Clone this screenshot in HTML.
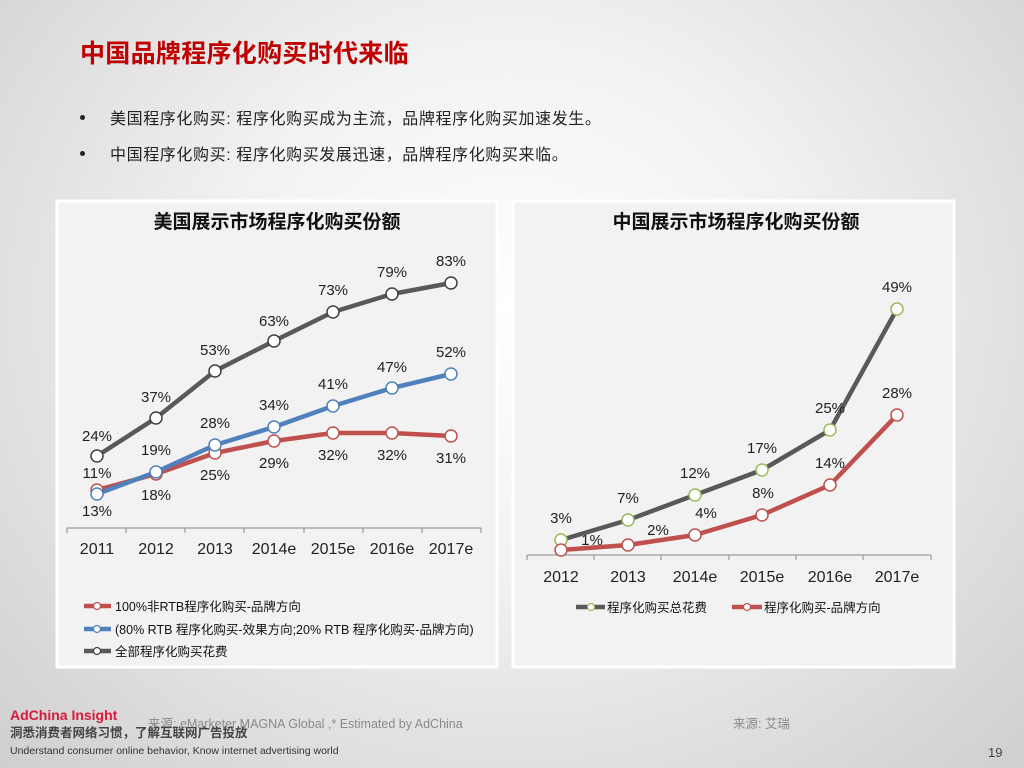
<!DOCTYPE html>
<html><head><meta charset="utf-8"><style>
body{margin:0;width:1024px;height:768px;overflow:hidden;background:radial-gradient(ellipse at 50% 40%,#ffffff 0%,#f2f2f2 40%,#cfcfcf 100%);font-family:"Liberation Sans","Noto Sans CJK SC",sans-serif;position:relative}
.t{position:absolute;white-space:nowrap}
.dot{position:absolute;width:5px;height:5px;border-radius:50%;background:#222}
</style></head><body>
<div class="t" style="left:80px;top:34px;font-size:25px;font-weight:bold;color:#c00000;letter-spacing:0.3px">中国品牌程序化购买时代来临</div>
<div class="dot" style="left:80px;top:115px"></div>
<div class="t" style="left:110px;top:105px;font-size:16px;color:#222;letter-spacing:0.6px">美国程序化购买: 程序化购买成为主流，品牌程序化购买加速发生。</div>
<div class="dot" style="left:80px;top:151px"></div>
<div class="t" style="left:110px;top:141px;font-size:16px;color:#222;letter-spacing:0.6px">中国程序化购买: 程序化购买发展迅速，品牌程序化购买来临。</div>
<svg width="1024" height="768" style="position:absolute;left:0;top:0" font-family="Liberation Sans, Noto Sans CJK SC, sans-serif">
<rect x="57" y="201" width="440" height="466" fill="#f2f2f2" stroke="#fff" stroke-width="3"/>
<rect x="513" y="201" width="441" height="466" fill="#f2f2f2" stroke="#fff" stroke-width="3"/>
<g font-size="19" font-weight="bold" fill="#111" text-anchor="middle">
<text x="277" y="228">美国展示市场程序化购买份额</text>
<text x="736" y="228">中国展示市场程序化购买份额</text></g>
<g stroke="#888" stroke-width="1"><line x1="67" y1="528" x2="481" y2="528"/>
<line x1="67" y1="528" x2="67" y2="533"/><line x1="126" y1="528" x2="126" y2="533"/><line x1="185" y1="528" x2="185" y2="533"/><line x1="244" y1="528" x2="244" y2="533"/><line x1="304" y1="528" x2="304" y2="533"/><line x1="363" y1="528" x2="363" y2="533"/><line x1="422" y1="528" x2="422" y2="533"/><line x1="481" y1="528" x2="481" y2="533"/></g>
<g font-size="16" fill="#222" text-anchor="middle"><text x="97" y="554">2011</text><text x="156" y="554">2012</text><text x="215" y="554">2013</text><text x="274" y="554">2014e</text><text x="333" y="554">2015e</text><text x="392" y="554">2016e</text><text x="451" y="554">2017e</text></g>
<g fill="none" stroke-width="4.5" stroke-linejoin="round">
<polyline stroke="#c0504d" points="97,490 156,474 215,453 274,441 333,433 392,433 451,436"/>
<polyline stroke="#4f81bd" points="97,494 156,472 215,445 274,427 333,406 392,388 451,374"/>
<polyline stroke="#595959" points="97,456 156,418 215,371 274,341 333,312 392,294 451,283"/></g>
<g fill="#fff" stroke-width="1.5">
<g stroke="#c0504d"><circle cx="97" cy="490" r="6"/><circle cx="156" cy="474" r="6"/><circle cx="215" cy="453" r="6"/><circle cx="274" cy="441" r="6"/><circle cx="333" cy="433" r="6"/><circle cx="392" cy="433" r="6"/><circle cx="451" cy="436" r="6"/></g>
<g stroke="#4f81bd"><circle cx="97" cy="494" r="6"/><circle cx="156" cy="472" r="6"/><circle cx="215" cy="445" r="6"/><circle cx="274" cy="427" r="6"/><circle cx="333" cy="406" r="6"/><circle cx="392" cy="388" r="6"/><circle cx="451" cy="374" r="6"/></g>
<g stroke="#404040"><circle cx="97" cy="456" r="6"/><circle cx="156" cy="418" r="6"/><circle cx="215" cy="371" r="6"/><circle cx="274" cy="341" r="6"/><circle cx="333" cy="312" r="6"/><circle cx="392" cy="294" r="6"/><circle cx="451" cy="283" r="6"/></g></g>
<g font-size="15" fill="#222" text-anchor="middle">
<text x="97" y="441">24%</text><text x="156" y="402">37%</text><text x="215" y="355">53%</text><text x="274" y="326">63%</text><text x="333" y="295">73%</text><text x="392" y="277">79%</text><text x="451" y="266">83%</text>
<text x="97" y="516">13%</text><text x="156" y="455">19%</text><text x="215" y="428">28%</text><text x="274" y="410">34%</text><text x="333" y="389">41%</text><text x="392" y="372">47%</text><text x="451" y="357">52%</text>
<text x="97" y="478">11%</text><text x="156" y="500">18%</text><text x="215" y="480">25%</text><text x="274" y="468">29%</text><text x="333" y="460">32%</text><text x="392" y="460">32%</text><text x="451" y="463">31%</text></g>
<g stroke-width="4.5"><line x1="84" y1="606" x2="111" y2="606" stroke="#c0504d"/><line x1="84" y1="629" x2="111" y2="629" stroke="#4f81bd"/><line x1="84" y1="651" x2="111" y2="651" stroke="#595959"/></g>
<g fill="#fff" stroke-width="1.2"><circle cx="97" cy="606" r="3.5" stroke="#c0504d"/><circle cx="97" cy="629" r="3.5" stroke="#4f81bd"/><circle cx="97" cy="651" r="3.5" stroke="#404040"/></g>
<g font-size="12.5" fill="#111"><text x="115" y="611">100%非RTB程序化购买-品牌方向</text><text x="115" y="634">(80% RTB 程序化购买-效果方向;20% RTB 程序化购买-品牌方向)</text><text x="115" y="656">全部程序化购买花费</text></g>
<g stroke="#888" stroke-width="1"><line x1="527" y1="555" x2="931" y2="555"/>
<line x1="527" y1="555" x2="527" y2="560"/><line x1="594" y1="555" x2="594" y2="560"/><line x1="661" y1="555" x2="661" y2="560"/><line x1="729" y1="555" x2="729" y2="560"/><line x1="796" y1="555" x2="796" y2="560"/><line x1="863" y1="555" x2="863" y2="560"/><line x1="931" y1="555" x2="931" y2="560"/></g>
<g font-size="16" fill="#222" text-anchor="middle"><text x="561" y="582">2012</text><text x="628" y="582">2013</text><text x="695" y="582">2014e</text><text x="762" y="582">2015e</text><text x="830" y="582">2016e</text><text x="897" y="582">2017e</text></g>
<g fill="none" stroke-width="4.5" stroke-linejoin="round">
<polyline stroke="#595959" points="561,540 628,520 695,495 762,470 830,430 897,309"/>
<polyline stroke="#c0504d" points="561,550 628,545 695,535 762,515 830,485 897,415"/></g>
<g fill="#fff" stroke-width="1.5">
<g stroke="#9bbb59"><circle cx="561" cy="540" r="6"/><circle cx="628" cy="520" r="6"/><circle cx="695" cy="495" r="6"/><circle cx="762" cy="470" r="6"/><circle cx="830" cy="430" r="6"/><circle cx="897" cy="309" r="6"/></g>
<g stroke="#c0504d"><circle cx="561" cy="550" r="6"/><circle cx="628" cy="545" r="6"/><circle cx="695" cy="535" r="6"/><circle cx="762" cy="515" r="6"/><circle cx="830" cy="485" r="6"/><circle cx="897" cy="415" r="6"/></g></g>
<g font-size="15" fill="#222" text-anchor="middle">
<text x="561" y="523">3%</text><text x="628" y="503">7%</text><text x="695" y="478">12%</text><text x="762" y="453">17%</text><text x="830" y="413">25%</text><text x="897" y="292">49%</text>
<text x="592" y="545">1%</text><text x="658" y="535">2%</text><text x="706" y="518">4%</text><text x="763" y="498">8%</text><text x="830" y="468">14%</text><text x="897" y="398">28%</text></g>
<g stroke-width="4.5"><line x1="576" y1="607" x2="605" y2="607" stroke="#595959"/><line x1="732" y1="607" x2="762" y2="607" stroke="#c0504d"/></g>
<g fill="#fff" stroke-width="1.2"><circle cx="591" cy="607" r="3.5" stroke="#9bbb59"/><circle cx="747" cy="607" r="3.5" stroke="#c0504d"/></g>
<g font-size="12.5" fill="#111"><text x="607" y="612">程序化购买总花费</text><text x="764" y="612">程序化购买-品牌方向</text></g>
</svg>
<div class="t" style="left:10px;top:707px;font-size:14px;font-weight:bold;color:#d9183b">AdChina Insight</div>
<div class="t" style="left:148px;top:713px;font-size:12.5px;color:#8a8a8a">来源: eMarketer MAGNA Global ,* Estimated by AdChina</div>
<div class="t" style="left:733px;top:713px;font-size:12.5px;color:#8a8a8a">来源: 艾瑞</div>
<div class="t" style="left:10px;top:725px;font-size:12.5px;line-height:16px;font-weight:bold;color:#444">洞悉消费者网络习惯，了解互联网广告投放</div>
<div class="t" style="left:10px;top:745px;font-size:10.5px;line-height:12px;color:#333">Understand consumer online behavior, Know internet advertising world</div>
<div class="t" style="left:988px;top:745px;font-size:13px;color:#444">19</div>
</body></html>
